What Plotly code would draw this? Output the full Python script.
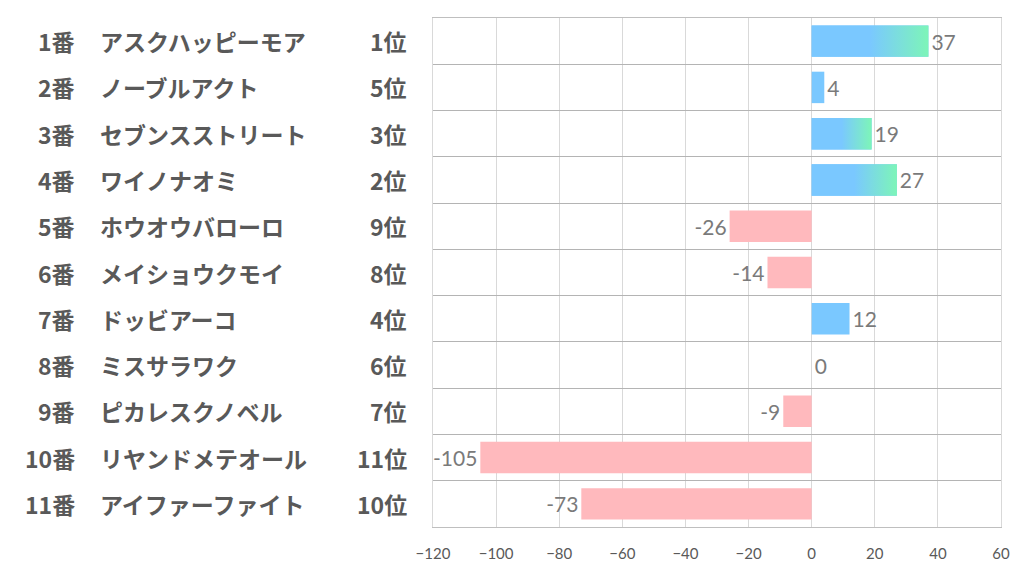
import plotly.graph_objects as go

nums = ["1番", "2番", "3番", "4番", "5番", "6番", "7番", "8番", "9番", "10番", "11番"]
names = ["アスクハッピーモア", "ノーブルアクト", "セブンスストリート", "ワイノナオミ",
         "ホウオウバローロ", "メイショウクモイ", "ドッビアーコ", "ミスサラワク",
         "ピカレスクノベル", "リヤンドメテオール", "アイファーファイト"]
ranks = ["1位", "5位", "3位", "2位", "9位", "8位", "4位", "6位", "7位", "11位", "10位"]
rank_no = [1, 5, 3, 2, 9, 8, 4, 6, 7, 11, 10]
values = [37, 4, 19, 27, -26, -14, 12, 0, -9, -105, -73]

BLUE = "#7ac8ff"
GREEN = "#7df5b8"
PINK = "#ffb9bd"
BAR_W = 0.68

rows = list(range(len(values)))
colors = [BLUE if v > 0 else PINK for v in values]

fig = go.Figure()
fig.add_trace(go.Bar(
    x=values, y=rows, orientation="h", width=BAR_W,
    marker=dict(color=colors, line=dict(width=0)),
    text=[str(v) for v in values], textposition="outside",
    textfont=dict(family="Lato, Noto Sans", size=21, color="#7a7a7a"),
    cliponaxis=False, hoverinfo="skip",
))

# gradient overlay for top-3 ranked horses
for i, (v, r) in enumerate(zip(values, rank_no)):
    if r <= 3 and v > 0:
        h = BAR_W / 2
        fig.add_trace(go.Scatter(
            x=[0, v, v, 0, 0], y=[i - h, i - h, i + h, i + h, i - h],
            mode="lines", line=dict(width=0), fill="toself",
            fillgradient=dict(type="horizontal",
                              colorscale=[[0, BLUE], [0.5, BLUE], [1, GREEN]]),
            hoverinfo="skip", showlegend=False,
        ))

L, R = 433, 18
lab_font = dict(family="Noto Sans CJK JP", size=23, color="#595959", weight="bold")
W = 1022 - L - R
for i in rows:
    fig.add_annotation(x=(75 - L) / W, y=i, xref="paper", yref="y", text=nums[i],
                       xanchor="right", yanchor="middle", showarrow=False, font=lab_font)
    fig.add_annotation(x=(96 - L) / W, y=i, xref="paper", yref="y", text=names[i],
                       xanchor="left", yanchor="middle", showarrow=False, font=lab_font)
    fig.add_annotation(x=(409 - L) / W, y=i, xref="paper", yref="y", text=ranks[i],
                       xanchor="right", yanchor="middle", showarrow=False, font=lab_font)

fig.update_layout(
    width=1022, height=574,
    margin=dict(l=L, r=R, t=18, b=43),
    paper_bgcolor="white", plot_bgcolor="white",
    showlegend=False, bargap=0.3,
    xaxis=dict(range=[-120, 60], dtick=20, tick0=0, gridcolor="#d9d9d9", gridwidth=1,
               zeroline=False, showline=True, linecolor="#bfbfbf", mirror=True,
               ticks="", ticklabelstandoff=13,
               tickfont=dict(family="Lato, Noto Sans", size=15, color="#595959")),
    yaxis=dict(range=[10.5, -0.5], tick0=-0.5, dtick=1, showticklabels=False,
               gridcolor="#b4b4b4", gridwidth=1, zeroline=False, ticks="",
               showline=True, linecolor="#d9d9d9", mirror=True),
)

fig.write_html("out.html")
